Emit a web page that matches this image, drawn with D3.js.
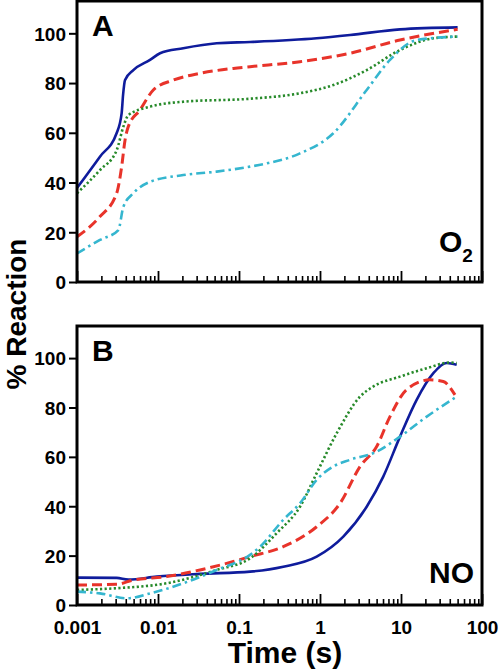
<!DOCTYPE html>
<html>
<head>
<meta charset="utf-8">
<script src="https://cdn.jsdelivr.net/npm/d3@7"></script>
<style>
  html, body { margin: 0; padding: 0; background: #fff; }
  text { font-family: "Liberation Sans", Arial, Helvetica, sans-serif; font-weight: bold; }
</style>
</head>
<body>
<svg id="chart" width="500" height="671"></svg>
<script>
// ---------- data (time in s, % reaction) ----------
const xTickLabels = ["0.001", "0.01", "0.1", "1", "10", "100"];
const xTickValues = [0.001, 0.01, 0.1, 1, 10, 100];
const yTickValues = [0, 20, 40, 60, 80, 100];
const panelLabels = ["A", "B"];
const gasLabels = ["O", "NO"];

// Panel A (O2)
const tA_blue = [0.001, 0.00192, 0.00309, 0.00356, 0.0037, 0.00392, 0.00496, 0.00797, 0.0106, 0.0205, 0.0531, 0.137, 0.91, 2.35, 9.72, 50];
const vA_blue = [37.8, 50.4, 59.9, 67.9, 75, 81.2, 85.2, 89.3, 92, 94, 96, 96.5, 98, 99.3, 101.6, 102.4];
const tA_red = [0.001, 0.00192, 0.00309, 0.00356, 0.00392, 0.0043, 0.006, 0.00875, 0.0155, 0.033, 0.0851, 0.137, 0.566, 2.35, 9.72, 50];
const vA_red = [18.2, 26.3, 35.7, 46.4, 57.1, 62.5, 69.2, 77.2, 81.2, 83.9, 85.9, 86.6, 88.6, 92, 97.3, 101.6];
const tA_green = [0.001, 0.00192, 0.00309, 0.00374, 0.0043, 0.00797, 0.0205, 0.137, 0.566, 1.46, 3.77, 9.72, 25.1, 50];
const vA_green = [35.7, 45, 53, 62.5, 67.1, 70.5, 72.5, 73.7, 75.9, 79.2, 85.2, 93.3, 98, 98.7];
const tA_cyan = [0.001, 0.00192, 0.00324, 0.00374, 0.00496, 0.00797, 0.0205, 0.0531, 0.137, 0.22, 0.566, 1.46, 3.77, 7.31, 15.6, 50];
const vA_cyan = [11.5, 16.9, 20.9, 30.3, 35.7, 40.3, 43, 44.4, 46.4, 47.7, 51.7, 59.8, 77.2, 89.3, 97.3, 98.7];

// Panel B (NO)
const tB_blue = [0.001, 0.00309, 0.0043, 0.00964, 0.033, 0.137, 0.352, 0.91, 1.94, 3.77, 6.04, 9.72, 15.6, 25.1, 36.7, 48.7];
const vB_blue = [11.1, 11, 10.3, 11.5, 12.6, 13.5, 15.5, 19.6, 27.7, 39.8, 52, 68.2, 83.1, 93.9, 98, 97.3];
const tB_red = [0.001, 0.00309, 0.00496, 0.0128, 0.033, 0.0851, 0.137, 0.352, 0.91, 1.77, 3.12, 5.01, 7.31, 11.7, 22.8, 33.3, 46.4];
const vB_red = [8.1, 8.4, 10.1, 11.5, 14.2, 17.6, 19.6, 23.6, 31.7, 41.2, 56.1, 64.2, 76.3, 87.2, 91.2, 90.5, 85.1];
const tB_green = [0.001, 0.00309, 0.0128, 0.0531, 0.137, 0.292, 0.566, 0.91, 1.61, 3.12, 4.55, 9.72, 20.8, 40.3, 48.7];
const vB_green = [6.1, 6.8, 8.8, 14.2, 18.9, 29.1, 39.8, 53.4, 69.6, 84.4, 88.5, 92.5, 95.9, 98.2, 98];
const tB_cyan = [0.001, 0.00192, 0.00411, 0.00797, 0.0205, 0.0531, 0.137, 0.182, 0.352, 0.566, 0.91, 1.46, 2.35, 5.01, 9.72, 20.8, 48.7];
const vB_cyan = [5.4, 4.7, 2.7, 4.7, 8.8, 14.2, 20.3, 23.6, 34.5, 41.2, 50.7, 56.1, 58.8, 62.1, 68.2, 76.3, 84.4];

// ---------- styles ----------
const seriesStyle = [
  { color: "#0f1c9c", width: 2.6, dash: null },
  { color: "#e8332a", width: 3, dash: "10,5" },
  { color: "#278a2a", width: 2.6, dash: "2.2,2.4" },
  { color: "#35b6cf", width: 2.6, dash: "9,4,2.5,4" }
];

const panels = [
  { series: [[tA_blue, vA_blue], [tA_red, vA_red], [tA_green, vA_green], [tA_cyan, vA_cyan]], top: 1, bottom: 282, xLabels: false },
  { series: [[tB_blue, vB_blue], [tB_red, vB_red], [tB_green, vB_green], [tB_cyan, vB_cyan]], top: 326, bottom: 605, xLabels: true }
];

const svg = d3.select("#chart");
const left = 77, right = 482;
const x = d3.scaleLog().domain([0.001, 100]).range([left, right]);
const minorTicks = [];
[0.001, 0.01, 0.1, 1, 10].forEach(d => { for (let k = 2; k <= 9; k++) minorTicks.push(d * k); });

panels.forEach((p, i) => {
  const y = d3.scaleLinear().domain([0, 113]).range([p.bottom, p.top]);
  const g = svg.append("g");

  const clipId = "clip" + i;
  svg.append("clipPath").attr("id", clipId).append("rect")
    .attr("x", left).attr("y", p.top).attr("width", right - left).attr("height", p.bottom - p.top);

  // lines
  const line = d3.line().x(d => x(d[0])).y(d => y(d[1])).curve(d3.curveMonotoneX);
  p.series.forEach((s, j) => {
    const data = s[0].map((t, k) => [t, s[1][k]]);
    const st = seriesStyle[j];
    g.append("path").datum(data)
      .attr("d", line)
      .attr("fill", "none")
      .attr("stroke", st.color)
      .attr("stroke-width", st.width)
      .attr("stroke-dasharray", st.dash)
      .attr("clip-path", `url(#${clipId})`);
  });

  // minor x ticks (inward)
  const minorAxis = d3.axisBottom(x).tickValues(minorTicks).tickSize(-6).tickSizeOuter(0).tickFormat("");
  const gm = g.append("g").attr("transform", `translate(0,${p.bottom})`).call(minorAxis);
  gm.select(".domain").remove();
  gm.selectAll("line").attr("stroke", "#000").attr("stroke-width", 1.6);

  // major x ticks
  const majorAxis = d3.axisBottom(x).tickValues(xTickValues).tickSize(-11).tickSizeOuter(0)
    .tickFormat((d, k) => p.xLabels ? xTickLabels[k] : "");
  const gx = g.append("g").attr("transform", `translate(0,${p.bottom})`).call(majorAxis);
  gx.select(".domain").remove();
  gx.selectAll("line").attr("stroke", "#000").attr("stroke-width", 1.8);
  gx.selectAll("text").attr("y", 0).attr("dy", 0)
    .attr("transform", "translate(0,29)")
    .attr("font-size", 19).attr("fill", "#000")
    .attr("font-family", '"Liberation Sans", Arial, sans-serif').attr("font-weight", "bold");

  // y axis
  const yAxis = d3.axisLeft(y).tickValues(yTickValues).tickSize(8).tickSizeOuter(0).tickPadding(3);
  const gy = g.append("g").attr("transform", `translate(${left},0)`).call(yAxis);
  gy.select(".domain").remove();
  gy.selectAll("line").attr("stroke", "#000").attr("stroke-width", 2);
  gy.selectAll("text").attr("font-size", 19).attr("fill", "#000").attr("dy", "0.36em")
    .attr("font-family", '"Liberation Sans", Arial, sans-serif').attr("font-weight", "bold");

  // frame
  g.append("rect").attr("x", left).attr("y", p.top).attr("width", right - left).attr("height", p.bottom - p.top)
    .attr("fill", "none").attr("stroke", "#000").attr("stroke-width", 3);

  // panel letter
  g.append("text").attr("x", 92).attr("y", p.top + 35).attr("font-size", 30).attr("fill", "#000").text(panelLabels[i]);
});

// gas labels
const o2 = svg.append("text").attr("x", 439).attr("y", 252).attr("font-size", 30).attr("fill", "#000");
o2.append("tspan").text(gasLabels[0]);
o2.append("tspan").attr("font-size", 19).attr("dy", 10).text("2");
svg.append("text").attr("x", 474).attr("y", 583).attr("text-anchor", "end").attr("font-size", 30).attr("fill", "#000").text(gasLabels[1]);

// axis titles
svg.append("text").attr("x", 285).attr("y", 663).attr("text-anchor", "middle").attr("font-size", 30).attr("fill", "#000").text("Time (s)");
svg.append("text").attr("transform", "translate(26,314) rotate(-90)").attr("text-anchor", "middle").attr("font-size", 28).attr("fill", "#000").text("% Reaction");
</script>
</body>
</html>
